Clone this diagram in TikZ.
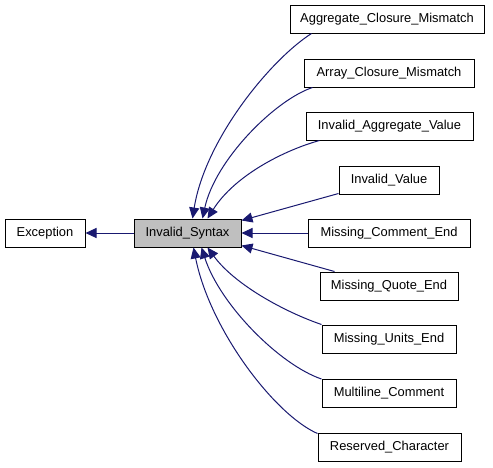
\documentclass[tikz,border=0pt]{standalone}
\usepackage{fontspec}
\setmainfont{Liberation Sans}
\usetikzlibrary{arrows.meta}
\definecolor{edgecol}{HTML}{191970}
\definecolor{hilite}{HTML}{BFBFBF}
\tikzset{
  box/.style={draw=black, line width=1pt, fill=white, minimum height=28pt, inner sep=0pt, font=\fontsize{12.9}{14}\selectfont},
  cur/.style={box, fill=hilite},
  edge/.style={draw=edgecol, line width=1pt, -{Triangle[length=11pt,width=10pt]}}
}
\begin{document}
\begin{tikzpicture}[x=1pt,y=-1pt]
\useasboundingbox (0,0) rectangle (493,467);
\node[box, minimum width=80pt] (exc) at (45,233) {Exception};
\node[cur, minimum width=107pt] (syn) at (187.5,233) {Invalid\_Syntax};
\node[box, minimum width=194pt] (agg) at (387,19) {Aggregate\_Closure\_Mismatch};
\node[box, minimum width=170pt] (arr) at (389,73) {Array\_Closure\_Mismatch};
\node[box, minimum width=167pt] (iav) at (389.5,126) {Invalid\_Aggregate\_Value};
\node[box, minimum width=100pt] (ivv) at (389,180) {Invalid\_Value};
\node[box, minimum width=162pt] (mce) at (389,233) {Missing\_Comment\_End};
\node[box, minimum width=138pt] (mqe) at (389,286) {Missing\_Quote\_End};
\node[box, minimum width=134pt] (mue) at (389,339) {Missing\_Units\_End};
\node[box, minimum width=134pt] (mlc) at (389,393.5) {Multiline\_Comment};
\node[box, minimum width=143pt] (rsc) at (389.5,447) {Reserved\_Character};

\draw[edge] (syn.west) -- (exc.east);
\draw[edge] ([xshift=22pt]agg.south west) .. controls (270,60) and (205,140) .. ([xshift=59pt]syn.north west);
\draw[edge] ([xshift=9pt]arr.south west) .. controls (275,100) and (215,160) .. ([xshift=69pt]syn.north west);
\draw[edge] ([xshift=14pt]iav.south west) .. controls (285,150) and (235,175) .. ([xshift=74pt]syn.north west);
\draw[edge] ([yshift=1pt]ivv.south west) -- ([yshift=-2pt]syn.north east);
\draw[edge] (mce.west) -- (syn.east);
\draw[edge] ([xshift=15pt]mqe.north west) -- ([yshift=2pt]syn.south east);
\draw[edge] (mue.north west) .. controls (285,312) and (235,285) .. ([xshift=74pt]syn.south west);
\draw[edge] (mlc.north west) .. controls (280,365) and (220,305) .. ([xshift=68pt]syn.south west);
\draw[edge] ([yshift=-1pt]rsc.north west) .. controls (275,415) and (210,330) .. ([xshift=60pt]syn.south west);
\end{tikzpicture}
\end{document}
